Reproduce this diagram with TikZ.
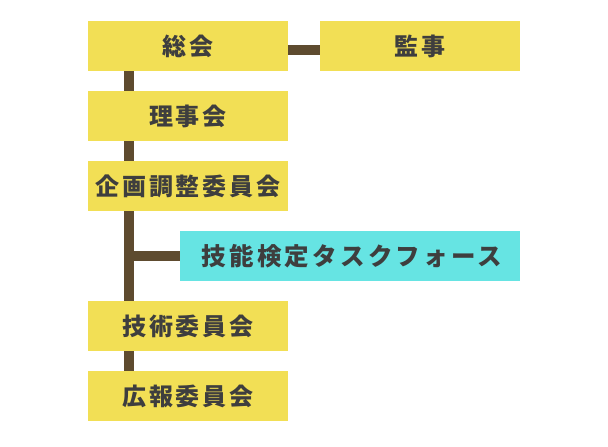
\documentclass[tikz,border=0pt]{standalone}
\usepackage{fontspec}
\newfontfamily\jp{Noto Sans CJK JP}[LetterSpace=12]
\newfontfamily\jpwide{Noto Sans CJK JP}[LetterSpace=13]
\definecolor{boxyellow}{HTML}{F2DF55}
\definecolor{boxcyan}{HTML}{66E4E3}
\definecolor{linebrown}{HTML}{5E4B2F}
\definecolor{txt}{HTML}{3E3E3E}
\begin{document}
\begin{tikzpicture}[x=1pt,y=-1pt,
  ybox/.style={rectangle, fill=boxyellow, minimum width=200pt, minimum height=50pt, inner sep=0pt,
    text=txt, font=\jp\bfseries\fontsize{24}{26}\selectfont},
  cbox/.style={rectangle, fill=boxcyan, minimum width=340pt, minimum height=50pt, inner sep=0pt,
    text=txt, font=\jpwide\bfseries\fontsize{24.5}{27}\selectfont},
  conn/.style={draw=linebrown, line width=10pt}]
\useasboundingbox (0,0) rectangle (608,447);
\node[ybox] (soukai) at (188,46) {総会};
\node[ybox] (kanji) at (420,46) {監事};
\node[ybox] (riji) at (188,116) {理事会};
\node[ybox] (kikaku) at (188,186) {企画調整委員会};
\node[cbox] (task) at (350,256) {\hspace{4pt}技能検定タスクフォース};
\node[ybox] (gijutsu) at (188,326) {技術委員会};
\node[ybox] (koho) at (188,396) {広報委員会};
\coordinate (br) at (129,256);
\draw[conn] ([yshift=-4pt]soukai.east) -- ([yshift=-4pt]kanji.west);
\draw[conn] ([xshift=-59pt]soukai.south) -- ([xshift=-59pt]riji.north);
\draw[conn] ([xshift=-59pt]riji.south) -- ([xshift=-59pt]kikaku.north);
\draw[conn] ([xshift=-59pt]kikaku.south) -- ([xshift=-59pt]gijutsu.north);
\draw[conn] ([xshift=-59pt]gijutsu.south) -- ([xshift=-59pt]koho.north);
\draw[conn] ([xshift=-5pt]br) -- (task.west);
\end{tikzpicture}
\end{document}
